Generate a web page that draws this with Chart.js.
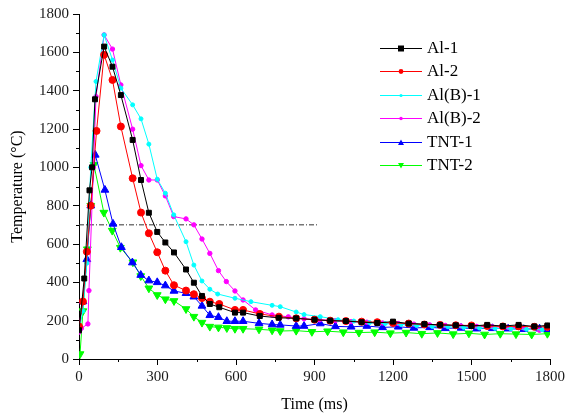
<!DOCTYPE html>
<html>
<head>
<meta charset="utf-8">
<title>Temperature vs time</title>
<script src="https://cdn.jsdelivr.net/npm/chart.js"></script>
<style>
  html, body { margin: 0; padding: 0; background: #fff; }
  #wrap { width: 568px; height: 418px; position: relative; }
</style>
</head>
<body>
<div id="wrap"><canvas id="tempChart"></canvas></div>
<script>
// --- DATA ---
const al1Time = [0, 20, 40, 50, 61, 96, 128, 160, 205, 237, 267, 299, 330, 363, 409, 439, 470, 500, 536, 596, 627, 691, 763, 830, 900, 960, 1020, 1080, 1140, 1200, 1260, 1320, 1380, 1440, 1500, 1560, 1620, 1680, 1740, 1790];
const al1Temp = [150, 420, 880, 1000, 1355, 1630, 1525, 1377, 1143, 934, 763, 663, 608, 556, 467, 398, 329, 287, 270, 242, 242, 224, 215, 212, 205, 200, 198, 192, 188, 195, 185, 182, 178, 176, 172, 178, 172, 178, 170, 175];

const al2Time = [0, 15, 30, 45, 67, 96, 128, 160, 205, 237, 267, 299, 330, 363, 409, 439, 470, 500, 536, 596, 627, 691, 764, 830, 900, 960, 1020, 1080, 1140, 1200, 1260, 1320, 1380, 1440, 1500, 1560, 1620, 1680, 1740, 1790];
const al2Temp = [170, 300, 560, 800, 1190, 1587, 1456, 1213, 943, 764, 656, 557, 461, 385, 357, 338, 318, 299, 287, 256, 256, 235, 221, 212, 205, 200, 198, 195, 192, 188, 185, 180, 178, 176, 175, 172, 170, 170, 168, 168];

const alb1Time = [0, 15, 30, 45, 65, 96, 128, 160, 205, 237, 267, 299, 330, 362, 409, 439, 470, 500, 530, 596, 657, 738, 769, 830, 860, 922, 990, 1050, 1110, 1170, 1230, 1290, 1350, 1410, 1470, 1530, 1590, 1650, 1710, 1770];
const alb1Temp = [150, 250, 500, 1000, 1448, 1691, 1560, 1413, 1326, 1253, 1121, 938, 865, 752, 612, 490, 407, 364, 339, 317, 299, 280, 273, 245, 232, 221, 205, 198, 190, 185, 180, 175, 170, 168, 165, 162, 160, 158, 155, 152];

const alb2Time = [0, 9, 34, 38, 55, 65, 96, 128, 160, 205, 237, 267, 299, 330, 362, 409, 439, 470, 500, 533, 563, 596, 627, 675, 738, 800, 860, 920, 980, 1040, 1100, 1160, 1220, 1280, 1340, 1400, 1460, 1520, 1580, 1640, 1700, 1760, 1790];
const alb2Temp = [140, 160, 183, 357, 1000, 1369, 1691, 1617, 1430, 1199, 1009, 934, 934, 851, 743, 731, 700, 626, 551, 461, 404, 355, 308, 256, 230, 220, 210, 205, 200, 195, 192, 188, 185, 182, 178, 175, 172, 170, 168, 165, 162, 150, 160];

const tnt1Time = [0, 15, 30, 45, 62, 99, 130, 162, 204, 236, 267, 299, 330, 363, 409, 439, 470, 500, 533, 565, 596, 627, 688, 738, 769, 830, 860, 922, 980, 1040, 1100, 1160, 1220, 1280, 1340, 1400, 1460, 1520, 1580, 1640, 1700, 1760, 1790];
const tnt1Temp = [170, 300, 520, 800, 1065, 882, 705, 583, 503, 438, 409, 400, 383, 355, 343, 325, 277, 228, 218, 197, 197, 197, 186, 180, 178, 172, 172, 185, 170, 168, 172, 165, 168, 162, 165, 160, 162, 158, 160, 158, 155, 158, 155];

const tnt2Time = [4, 15, 32, 45, 57, 95, 127, 158, 206, 236, 267, 299, 330, 363, 409, 439, 470, 500, 533, 565, 596, 627, 688, 738, 769, 830, 890, 950, 1010, 1070, 1130, 1190, 1250, 1310, 1370, 1430, 1490, 1550, 1610, 1670, 1730, 1790];
const tnt2Temp = [26, 250, 573, 800, 1013, 764, 670, 581, 505, 433, 369, 334, 312, 303, 261, 221, 190, 169, 165, 162, 158, 158, 155, 150, 146, 148, 142, 145, 140, 138, 140, 135, 138, 132, 136, 130, 134, 128, 132, 130, 128, 132];

// dash-dot reference line at 700 °C
const refTime = [0, 915];
const refTemp = [700, 700];

const xTicks = [0, 300, 600, 900, 1200, 1500, 1800];
const yTicks = [0, 200, 400, 600, 800, 1000, 1200, 1400, 1600, 1800];

// --- HELPERS ---
const FONT = '"Liberation Serif", "Times New Roman", serif';
Chart.defaults.font.family = FONT;
const pts = (xs, ys) => xs.map((x, i) => ({ x, y: ys[i] }));

function series(label, xs, ys, color, style, radius, rotation) {
    return {
        label,
        data: pts(xs, ys),
        borderColor: color,
        backgroundColor: color,
        borderWidth: 1,
        pointStyle: style,
        pointRadius: radius,
        pointRotation: rotation || 0,
        pointBorderWidth: 1,
        tension: 0
    };
}

// --- PLUGINS ---
const minorTicks = {
    id: 'minorTicks',
    afterDraw(chart) {
        const { ctx, scales: { x, y }, chartArea: a } = chart;
        ctx.save();
        ctx.strokeStyle = '#000';
        ctx.lineWidth = 1;
        ctx.beginPath();
        for (let v = 100; v < 1800; v += 200) {
            const py = Math.round(y.getPixelForValue(v)) + 0.5;
            ctx.moveTo(a.left - 3, py); ctx.lineTo(a.left, py);
        }
        for (let v = 150; v < 1800; v += 300) {
            const px = Math.round(x.getPixelForValue(v)) + 0.5;
            ctx.moveTo(px, a.bottom); ctx.lineTo(px, a.bottom + 3);
        }
        ctx.stroke();
        ctx.restore();
    }
};

function drawMarker(ctx, ds, cx, cy) {
    const r = Math.min(ds.pointRadius, 3);
    ctx.fillStyle = ds.borderColor;
    ctx.beginPath();
    if (ds.pointStyle === 'rect') {
        ctx.rect(cx - r, cy - r, 2 * r, 2 * r);
    } else if (ds.pointStyle === 'triangle') {
        const dir = ds.pointRotation ? -1 : 1;
        ctx.moveTo(cx, cy - dir * r);
        ctx.lineTo(cx + r, cy + dir * r * 0.8);
        ctx.lineTo(cx - r, cy + dir * r * 0.8);
        ctx.closePath();
    } else {
        ctx.arc(cx, cy, r * 0.8, 0, Math.PI * 2);
    }
    ctx.fill();
}

const insideLegend = {
    id: 'insideLegend',
    afterDraw(chart) {
        const ctx = chart.ctx;
        const rows = chart.data.datasets.filter(d => !d.hideInLegend);
        ctx.save();
        ctx.font = '17px ' + FONT;
        ctx.textBaseline = 'middle';
        rows.forEach((ds, i) => {
            const y = 47.5 + i * 23.5;
            ctx.strokeStyle = ds.borderColor;
            ctx.lineWidth = 1;
            ctx.beginPath();
            ctx.moveTo(380, Math.round(y) + 0.5);
            ctx.lineTo(422, Math.round(y) + 0.5);
            ctx.stroke();
            drawMarker(ctx, ds, 401, Math.round(y) + 0.5);
            ctx.fillStyle = '#000';
            ctx.fillText(ds.label, 427, y + 1);
        });
        ctx.restore();
    }
};

// --- CHART ---
const refLine = {
    label: 'ref',
    hideInLegend: true,
    data: pts(refTime, refTemp),
    borderColor: '#333',
    borderWidth: 1,
    borderDash: [5, 2, 1, 2],
    pointRadius: 0
};

new Chart(document.getElementById('tempChart'), {
    type: 'line',
    data: {
        datasets: [
            series('Al-1', al1Time, al1Temp, '#000000', 'rect', 3.5),
            series('Al-2', al2Time, al2Temp, '#ff0000', 'circle', 3.5),
            series('Al(B)-1', alb1Time, alb1Temp, '#00ffff', 'circle', 2),
            series('Al(B)-2', alb2Time, alb2Temp, '#ff00ff', 'circle', 2.2),
            series('TNT-1', tnt1Time, tnt1Temp, '#0000ff', 'triangle', 4.5),
            series('TNT-2', tnt2Time, tnt2Temp, '#00ff00', 'triangle', 4.5, 180),
            refLine
        ]
    },
    options: {
        responsive: true,
        maintainAspectRatio: false,
        animation: false,
        layout: { padding: { top: 14, right: 15, left: 0, bottom: 0 } },
        plugins: { legend: { display: false }, tooltip: { enabled: false } },
        scales: {
            x: {
                type: 'linear',
                min: 0, max: 1800,
                afterFit(s) { s.height = 59; },
                afterBuildTicks(s) { s.ticks = xTicks.map(v => ({ value: v })); },
                grid: { drawOnChartArea: false, drawTicks: true, tickLength: 6, color: '#000' },
                border: { color: '#000', width: 1 },
                ticks: { color: '#1a1a1a', padding: 3, maxRotation: 0, callback: v => String(v), font: { family: FONT, size: 15 } },
                title: { display: true, text: 'Time (ms)', color: '#000', padding: { top: 4, bottom: 4 }, font: { family: FONT, size: 16 } }
            },
            y: {
                type: 'linear',
                min: 0, max: 1800,
                afterFit(s) { s.width = 79; },
                afterBuildTicks(s) { s.ticks = yTicks.map(v => ({ value: v })); },
                grid: { drawOnChartArea: false, drawTicks: true, tickLength: 6, color: '#000' },
                border: { color: '#000', width: 1 },
                ticks: { color: '#1a1a1a', padding: 4, callback: v => String(v), font: { family: FONT, size: 15 } },
                title: { display: true, text: 'Temperature (°C)', color: '#000', padding: { top: 8, bottom: 4 }, font: { family: FONT, size: 16 } }
            }
        }
    },
    plugins: [minorTicks, insideLegend]
});
</script>
</body>
</html>
